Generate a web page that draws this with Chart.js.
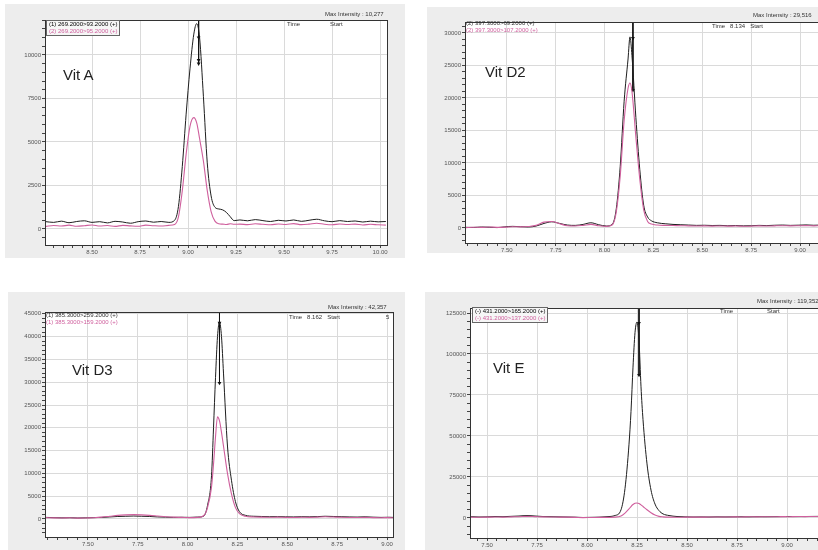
<!DOCTYPE html>
<html><head><meta charset="utf-8">
<script src="https://cdn.jsdelivr.net/npm/chart.js@4.4.1/dist/chart.umd.min.js"></script>
<style>
html,body{margin:0;padding:0;width:818px;height:550px;overflow:hidden;background:#fff;font-family:Arial,"Liberation Sans",sans-serif;}
.panel{position:absolute;background:#ededed;}
canvas{position:absolute;}
.t{position:absolute;white-space:nowrap;font-size:6px;line-height:7px;color:#333;}
.p{color:#cf5f9d;}
.lg{position:absolute;white-space:nowrap;font-size:6px;line-height:7px;border:1px solid #666;padding:0 2px;background:#f6f6f6;}
.vit{position:absolute;font-size:15px;line-height:18px;color:#222;white-space:nowrap;}
</style></head><body>

<div class="panel" style="left:5px;top:4px;width:400px;height:254px;"></div>
<div class="panel" style="left:427px;top:7px;width:400px;height:246px;"></div>
<div class="panel" style="left:8px;top:292px;width:397px;height:258px;"></div>
<div class="panel" style="left:425px;top:292px;width:400px;height:258px;"></div>

<canvas id="cA" width="400" height="254" style="left:5px;top:4px;"></canvas>
<canvas id="cD2" width="410" height="246" style="left:427px;top:7px;"></canvas>
<canvas id="cD3" width="397" height="258" style="left:8px;top:292px;"></canvas>
<canvas id="cE" width="420" height="258" style="left:425px;top:292px;"></canvas>

<!-- panel texts -->
<div class="t" style="left:325px;top:11px;">Max Intensity : 10,277</div>
<div class="t" style="left:287px;top:21px;">Time</div>
<div class="t" style="left:330px;top:21px;">Start</div>
<div class="lg" style="left:46px;top:20px;">(1) 269.2000&gt;93.2000 (+)<br><span class="p">(2) 269.2000&gt;95.2000 (+)</span></div>
<div class="vit" style="left:63px;top:66px;">Vit A</div>

<div class="t" style="left:753px;top:12px;">Max Intensity : 29,516</div>
<div class="t" style="left:712px;top:23px;">Time&nbsp;&nbsp;&nbsp;8.134&nbsp;&nbsp;&nbsp;Start</div>
<div class="t" style="left:466px;top:20px;">(2) 397.3000&gt;69.2000 (+)<br><span class="p">(2) 397.3000&gt;107.2000 (+)</span></div>
<div class="vit" style="left:485px;top:63px;">Vit D2</div>

<div class="t" style="left:328px;top:304px;">Max Intensity : 42,357</div>
<div class="t" style="left:289px;top:314px;">Time&nbsp;&nbsp;&nbsp;8.162&nbsp;&nbsp;&nbsp;Start</div>
<div class="t" style="left:386px;top:314px;">5</div>
<div class="t" style="left:46px;top:312px;">(1) 385.3000&gt;259.2000 (+)<br><span class="p">(1) 385.3000&gt;159.2000 (+)</span></div>
<div class="vit" style="left:72px;top:361px;">Vit D3</div>

<div class="t" style="left:757px;top:298px;">Max Intensity : 119,352</div>
<div class="t" style="left:720px;top:308px;">Time</div>
<div class="t" style="left:767px;top:308px;">Start</div>
<div class="lg" style="left:472px;top:307px;">(-) 431.2000&gt;165.2000 (+)<br><span class="p">(-) 431.2000&gt;137.2000 (+)</span></div>
<div class="vit" style="left:493px;top:359px;">Vit E</div>

<script>
// ---------- DATA ----------
// Vit A
const timesA = [8.26,8.30,8.34,8.38,8.42,8.46,8.50,8.54,8.58,8.62,8.66,8.70,8.74,8.78,8.82,8.86,8.90,8.93,8.95,8.97,8.99,9.01,9.03,9.045,9.06,9.08,9.10,9.12,9.14,9.16,9.18,9.20,9.22,9.24,9.27,9.31,9.35,9.39,9.43,9.47,9.51,9.55,9.59,9.63,9.67,9.71,9.75,9.79,9.83,9.87,9.91,9.95,9.99,10.03];
const blackA = [420,380,450,360,430,470,380,420,350,440,400,330,420,460,390,430,380,500,1300,3600,6600,9200,11200,11800,11000,7600,3800,1900,1250,1150,1100,950,700,480,520,470,540,480,430,500,460,520,440,500,560,470,420,480,430,460,400,450,410,430];
const pinkA  = [150,200,170,220,160,190,230,170,200,150,210,180,160,220,190,170,210,260,700,2200,4300,5900,6400,6100,5200,3900,2200,1000,450,300,280,260,300,270,280,250,300,270,240,290,260,310,250,280,330,270,240,290,260,280,230,270,240,220];
const markerTimeA = [9.055,9.055,9.055,9.055];
const markerYA = [12100,11000,9700,9500];
const xLabelsA = ['8.50','8.75','9.00','9.25','9.50','9.75','10.00'];
const yLabelsA = ['0','2500','5000','7500','10000'];

// Vit D2
const timesD2 = [7.29,7.33,7.37,7.41,7.45,7.49,7.53,7.57,7.61,7.65,7.69,7.73,7.77,7.81,7.85,7.89,7.93,7.97,8.01,8.04,8.06,8.08,8.10,8.12,8.13,8.14,8.16,8.18,8.20,8.22,8.24,8.27,8.31,8.35,8.39,8.43,8.47,8.51,8.55,8.59,8.63,8.67,8.71,8.75,8.79,8.83,8.87,8.91,8.95,8.99,9.03,9.07,9.11,9.15];
const blackD2 = [100,80,150,120,60,180,250,200,150,300,700,950,700,450,400,550,800,500,300,600,3000,9500,19500,26000,29400,26500,17000,9000,3500,1700,1100,800,650,550,500,450,400,420,380,400,350,380,330,350,400,370,420,450,400,430,470,420,450,400];
const pinkD2  = [60,120,90,150,100,130,200,170,220,400,900,1000,650,350,300,400,550,350,250,500,2500,8000,16500,21500,22300,21000,14000,7500,2800,1000,600,450,400,380,350,330,300,320,290,310,280,300,260,290,320,300,330,350,320,340,370,330,350,320];
const markerTimeD2 = [8.145,8.145,8.145];
const markerYD2 = [31800,29200,21200];
const xLabelsD2 = ['7.50','7.75','8.00','8.25','8.50','8.75','9.00'];
const yLabelsD2 = ['0','5000','10000','15000','20000','25000','30000'];

// Vit D3
const timesD3 = [7.29,7.33,7.37,7.41,7.45,7.49,7.53,7.57,7.61,7.65,7.69,7.73,7.77,7.81,7.85,7.89,7.93,7.97,8.01,8.05,8.08,8.10,8.12,8.13,8.14,8.15,8.16,8.17,8.18,8.20,8.22,8.24,8.26,8.29,8.33,8.37,8.41,8.45,8.49,8.53,8.57,8.61,8.65,8.69,8.73,8.77,8.81,8.85,8.89,8.93,8.97,9.01,9.03];
const blackD3 = [350,300,250,280,220,260,300,350,450,550,600,650,600,550,450,400,350,380,350,420,600,3000,9500,20000,31000,40000,43200,40000,32000,16000,8500,3800,1600,800,600,550,500,520,480,450,500,480,520,600,550,500,450,420,480,400,350,380,350];
const pinkD3  = [300,250,220,260,200,230,280,400,600,800,900,950,900,800,650,500,400,350,300,350,700,2500,7000,12000,18000,22400,21500,19000,16000,10000,5500,2500,1200,600,450,400,380,400,350,330,380,360,420,480,430,380,340,320,360,300,280,300,280];
const markerTimeD3 = [8.16,8.16,8.16];
const markerYD3 = [45500,43000,29800];
const xLabelsD3 = ['7.50','7.75','8.00','8.25','8.50','8.75','9.00'];
const yLabelsD3 = ['0','5000','10000','15000','20000','25000','30000','35000','40000','45000'];

// Vit E
const timesE = [7.42,7.46,7.50,7.54,7.58,7.62,7.66,7.70,7.74,7.78,7.82,7.86,7.90,7.94,7.98,8.02,8.06,8.10,8.14,8.17,8.19,8.21,8.22,8.23,8.24,8.25,8.26,8.27,8.28,8.30,8.32,8.34,8.36,8.38,8.41,8.45,8.49,8.53,8.57,8.61,8.65,8.69,8.73,8.77,8.81,8.85,8.89,8.93,8.97,9.01,9.05,9.09,9.13,9.17,9.21];
const blackE = [800,600,700,900,800,1000,1200,1500,1200,900,800,700,600,500,300,400,500,800,1500,5000,18000,45000,65000,92000,113000,119500,108000,80000,60000,33000,17000,8500,4500,2500,1500,900,700,600,650,600,700,650,700,750,700,800,750,800,850,900,850,900,950,1000,1000];
const pinkE  = [500,450,500,600,550,700,800,1000,850,700,600,550,500,400,250,300,350,400,500,1200,3000,5500,7000,8200,9000,9150,8800,8000,7000,5000,3200,1800,1000,700,500,450,500,550,500,600,650,600,700,650,750,700,800,750,850,800,900,850,950,900,1000];
const markerTimeE = [8.26,8.26,8.26];
const markerYE = [128500,118900,87200];
const xLabelsE = ['7.50','7.75','8.00','8.25','8.50','8.75','9.00'];
const yLabelsE = ['0','25000','50000','75000','100000','125000'];

// ---------- DRAWING ----------
const BLACK = '#1e1e1e';
const PINK = '#cf5f9d';

const framePlugin = {
  id: 'frame',
  beforeDraw(chart) {
    const a = chart.chartArea, c = chart.ctx;
    c.save(); c.fillStyle = '#ffffff';
    c.fillRect(a.left, a.top, a.right - a.left, a.bottom - a.top);
    c.restore();
  },
  afterDraw(chart) {
    const a = chart.chartArea, c = chart.ctx;
    c.save(); c.strokeStyle = '#333'; c.lineWidth = 1;
    c.strokeRect(Math.round(a.left) + 0.5, Math.round(a.top) + 0.5, Math.round(a.right - a.left), Math.round(a.bottom - a.top));
    c.restore();
  }
};

function pts(xs, ys) { return xs.map((x, i) => ({x: x, y: ys[i]})); }

// tick marks every `minor`, labels only at the values in the label list
function tickList(min, max, minor) {
  const out = [];
  const k0 = Math.ceil(min / minor - 1e-9), k1 = Math.floor(max / minor + 1e-9);
  for (let k = k0; k <= k1; k++) out.push({ value: Math.round(k * minor * 1000) / 1000 });
  return out;
}
function labelFor(labels, v) {
  for (const s of labels) if (Math.abs(parseFloat(s) - v) < 1e-6) return s;
  return '';
}

function makeChart(id, o) {
  new Chart(document.getElementById(id), {
    type: 'line',
    data: { datasets: [
      { data: pts(o.times, o.pink), borderColor: PINK, borderWidth: 1.1, pointRadius: 0, cubicInterpolationMode: 'monotone', order: 0 },
      { data: pts(o.times, o.black), borderColor: BLACK, borderWidth: 1, pointRadius: 0, cubicInterpolationMode: 'monotone', order: 1 },
      { data: pts(o.mt, o.my), borderColor: '#111', borderWidth: 1, pointStyle: 'triangle', rotation: 180,
        pointRadius: o.my.map((v, i) => i === 0 ? 0 : 2.2), pointBackgroundColor: '#111', pointBorderWidth: 0, order: 2 }
    ]},
    options: {
      responsive: false, animation: false, devicePixelRatio: 1,
      layout: { padding: { left: 0, top: o.padTop, right: o.padRight, bottom: 0 } },
      plugins: { legend: { display: false }, tooltip: { enabled: false } },
      scales: {
        x: { type: 'linear', min: o.xMin, max: o.xMax,
          afterBuildTicks: s => { s.ticks = tickList(o.xMin, o.xMax, 0.05); },
          afterFit: s => { s.height = o.xH; },
          ticks: { autoSkip: false, maxRotation: 0, padding: 1, color: '#555',
            font: { size: 6, family: 'Arial' }, callback: v => labelFor(o.xl, v) },
          grid: { color: c => labelFor(o.xl, c.tick.value) ? '#dadada' : 'rgba(0,0,0,0)', tickColor: '#444', tickLength: 3 },
          border: { display: true, color: '#333', width: 1 } },
        y: { min: o.yMin, max: o.yMax,
          afterBuildTicks: s => { s.ticks = tickList(o.yMin, o.yMax, o.yMinor); },
          afterFit: s => { s.width = o.yW; },
          ticks: { autoSkip: false, padding: 1, color: '#555',
            font: { size: 6, family: 'Arial' }, callback: v => labelFor(o.yl, v) },
          grid: { color: c => labelFor(o.yl, c.tick.value) ? '#dadada' : 'rgba(0,0,0,0)', tickColor: '#444', tickLength: 3 },
          border: { display: true, color: '#333', width: 1 } }
      }
    },
    plugins: [framePlugin]
  });
}

makeChart('cA', { times: timesA, black: blackA, pink: pinkA, mt: markerTimeA, my: markerYA, xl: xLabelsA, yl: yLabelsA,
  xMin: 8.255, xMax: 10.036, yMin: -920, yMax: 12010, yMinor: 500,
  padTop: 16, padRight: 18, xH: 13, yW: 40 });
makeChart('cD2', { times: timesD2, black: blackD2, pink: pinkD2, mt: markerTimeD2, my: markerYD2, xl: xLabelsD2, yl: yLabelsD2,
  xMin: 7.286, xMax: 9.153, yMin: -2310, yMax: 31690, yMinor: 1000,
  padTop: 15, padRight: 7, xH: 10, yW: 38 });
makeChart('cD3', { times: timesD3, black: blackD3, pink: pinkD3, mt: markerTimeD3, my: markerYD3, xl: xLabelsD3, yl: yLabelsD3,
  xMin: 7.285, xMax: 9.03, yMin: -3950, yMax: 45400, yMinor: 1000,
  padTop: 20, padRight: 12, xH: 13, yW: 37 });
makeChart('cE', { times: timesE, black: blackE, pink: pinkE, mt: markerTimeE, my: markerYE, xl: xLabelsE, yl: yLabelsE,
  xMin: 7.415, xMax: 9.225, yMin: -12200, yMax: 128050, yMinor: 5000,
  padTop: 16, padRight: 13, xH: 12, yW: 45 });
</script>
</body></html>
